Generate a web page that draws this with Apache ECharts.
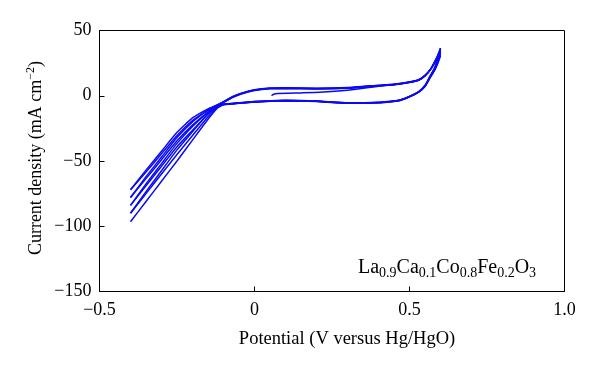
<!DOCTYPE html>
<html>
<head>
<meta charset="utf-8">
<script src="https://cdn.jsdelivr.net/npm/echarts@6/dist/echarts.min.js"></script>
<style>html,body{margin:0;padding:0;background:#fff}#c{width:600px;height:371px}</style>
</head>
<body>
<div id="c"></div>
<script>
// Potential grids (V vs Hg/HgO)
const E_INIT = [0.055,0.06,0.075,0.15,0.21,0.30,0.40,0.45,0.50,0.53,0.55,0.57,0.59,0.60];
const E_FWD = [-0.40,-0.35,-0.30,-0.25,-0.20,-0.15,-0.12,-0.10,-0.07,-0.04,0.00,0.05,0.10,0.20,0.30,0.40,0.45,0.50,0.53,0.55,0.57,0.59,0.60];
const E_REV = [0.60,0.59,0.58,0.566,0.55,0.53,0.50,0.47,0.45,0.40,0.30,0.20,0.10,0.05,0.00,-0.05,-0.10,-0.12,-0.15,-0.20,-0.25,-0.30,-0.35,-0.40];

// Current density (mA cm^-2)
const I_INIT = [0,1.0,1.8,2.2,2.6,4.2,7.3,8.5,10.4,12.3,15.4,21,29,30.5];
const I_REV0 = [30.5,24,19,13.5,7,2.8,-0.5,-3.2,-4.0,-5.0,-5.4,-4.0,-3.5,-3.9,-4.4,-5.4,-6.5,-7.5,-11,-19,-30.5,-44.5,-58.5,-72];
const I_FWD1 = [-72,-57,-42.5,-28,-17,-10,-7,-4.5,-0.5,2.2,4.6,5.9,6.1,5.8,6.3,8.1,8.9,10.6,12.3,15.6,21,29,32];
const I_REV1 = [32,25,19.5,14,7.3,2.9,-0.6,-3.3,-4.1,-5.1,-5.5,-4.1,-3.6,-4.0,-4.5,-5.5,-6.6,-8,-12.5,-22.5,-34.5,-49,-63.5,-78];
const I_FWD2 = [-78,-62,-47,-32,-20,-11,-7,-4.7,-0.7,2.0,4.5,5.8,6.0,5.6,6.1,7.9,8.8,10.5,12.2,15.5,21,29.5,33.5];
const I_REV2 = [33.5,26,20,14.3,7.5,3.0,-0.7,-3.4,-4.2,-5.2,-5.6,-4.2,-3.7,-4.1,-4.6,-5.6,-6.7,-8.5,-14,-26.5,-39,-54,-69,-84];
const I_FWD3 = [-84,-67.5,-52,-36.5,-23.5,-12.5,-7.5,-5.0,-1.0,1.8,4.3,5.6,5.8,5.4,5.9,7.7,8.6,10.3,12.0,15.4,21,30,35];
const I_REV3 = [35,27,20.5,14.6,7.7,3.1,-0.8,-3.5,-4.3,-5.3,-5.7,-4.3,-3.8,-4.2,-4.7,-5.7,-6.8,-9,-16,-30.5,-45,-60,-75,-90];
const I_FWD4 = [-90,-73.5,-57.5,-41.5,-27.5,-14,-8,-5.2,-1.2,1.6,4.1,5.4,5.6,5.2,5.7,7.5,8.4,10.1,11.8,15.2,21,30.5,36.5];
const I_REV4 = [36.5,28,21,15,8,3.2,-0.9,-3.6,-4.4,-5.4,-5.8,-4.4,-3.9,-4.3,-4.8,-5.8,-6.9,-9.5,-18,-34,-50,-65.5,-81,-96.5];

const X_TICKS = [-0.5, 0, 0.5, 1.0];
const Y_TICKS = [-150, -100, -50, 0, 50];

const branches = [
  [E_INIT, I_INIT], [E_REV, I_REV0],
  [E_FWD, I_FWD1], [E_REV, I_REV1],
  [E_FWD, I_FWD2], [E_REV, I_REV2],
  [E_FWD, I_FWD3], [E_REV, I_REV3],
  [E_FWD, I_FWD4], [E_REV, I_REV4]
];
const zip = (xs, ys) => xs.map((x, i) => [x, ys[i]]);
const minus = s => String(s).replace('-', '\u2212');
const SERIF = 'Liberation Serif';
const BLUE = '#0a0af2';

const chart = echarts.init(document.getElementById('c'), null, {renderer: 'canvas'});
chart.setOption({
  animation: false,
  backgroundColor: '#fff',
  grid: {left: 99.5, right: 35.5, top: 30.5, bottom: 79.5, show: true, borderColor: '#000', borderWidth: 1},
  xAxis: {
    type: 'value', min: X_TICKS[0], max: X_TICKS[X_TICKS.length - 1], interval: 0.5,
    axisLine: {onZero: false, lineStyle: {color: '#000', width: 1}},
    axisTick: {inside: true, length: 5, lineStyle: {color: '#000'}},
    splitLine: {show: false},
    axisLabel: {color: '#000', fontFamily: SERIF, fontSize: 18, margin: 10,
      formatter: v => v === 0 ? '0' : minus(v.toFixed(1))}
  },
  yAxis: {
    type: 'value', min: Y_TICKS[0], max: Y_TICKS[Y_TICKS.length - 1], interval: 50,
    axisLine: {onZero: false, lineStyle: {color: '#000', width: 1}},
    axisTick: {inside: true, length: 5, lineStyle: {color: '#000'}},
    splitLine: {show: false},
    axisLabel: {color: '#000', fontFamily: SERIF, fontSize: 18, margin: 8,
      formatter: v => minus(v)}
  },
  series: branches.map(([xs, ys]) => ({
    type: 'line', data: zip(xs, ys), showSymbol: false, smooth: 0.15,
    lineStyle: {color: BLUE, width: 1.5}, silent: true
  })),
  graphic: [
    {type: 'text', x: 347, y: 339,
      style: {text: 'Potential (V versus Hg/HgO)', fontFamily: SERIF, fontSize: 18.5, fill: '#000', align: 'center', verticalAlign: 'middle'}},
    {type: 'text', x: 36, y: 158, rotation: Math.PI / 2,
      style: {text: '{a|Current density (mA cm}{s|\u22122}{a|)}', align: 'center', verticalAlign: 'middle', fill: '#000',
        rich: {a: {fontFamily: SERIF, fontSize: 18, lineHeight: 22, fill: '#000'},
               s: {fontFamily: SERIF, fontSize: 12, lineHeight: 12, verticalAlign: 'top', fill: '#000'}}}},
    {type: 'text', x: 358, y: 268,
      style: {text: '{a|La}{b|0.9}{a|Ca}{b|0.1}{a|Co}{b|0.8}{a|Fe}{b|0.2}{a|O}{b|3}', align: 'left', verticalAlign: 'middle', fill: '#000',
        rich: {a: {fontFamily: SERIF, fontSize: 20, lineHeight: 24, fill: '#000'},
               b: {fontFamily: SERIF, fontSize: 14, lineHeight: 13, verticalAlign: 'bottom', fill: '#000'}}}}
  ]
});
</script>
</body>
</html>
